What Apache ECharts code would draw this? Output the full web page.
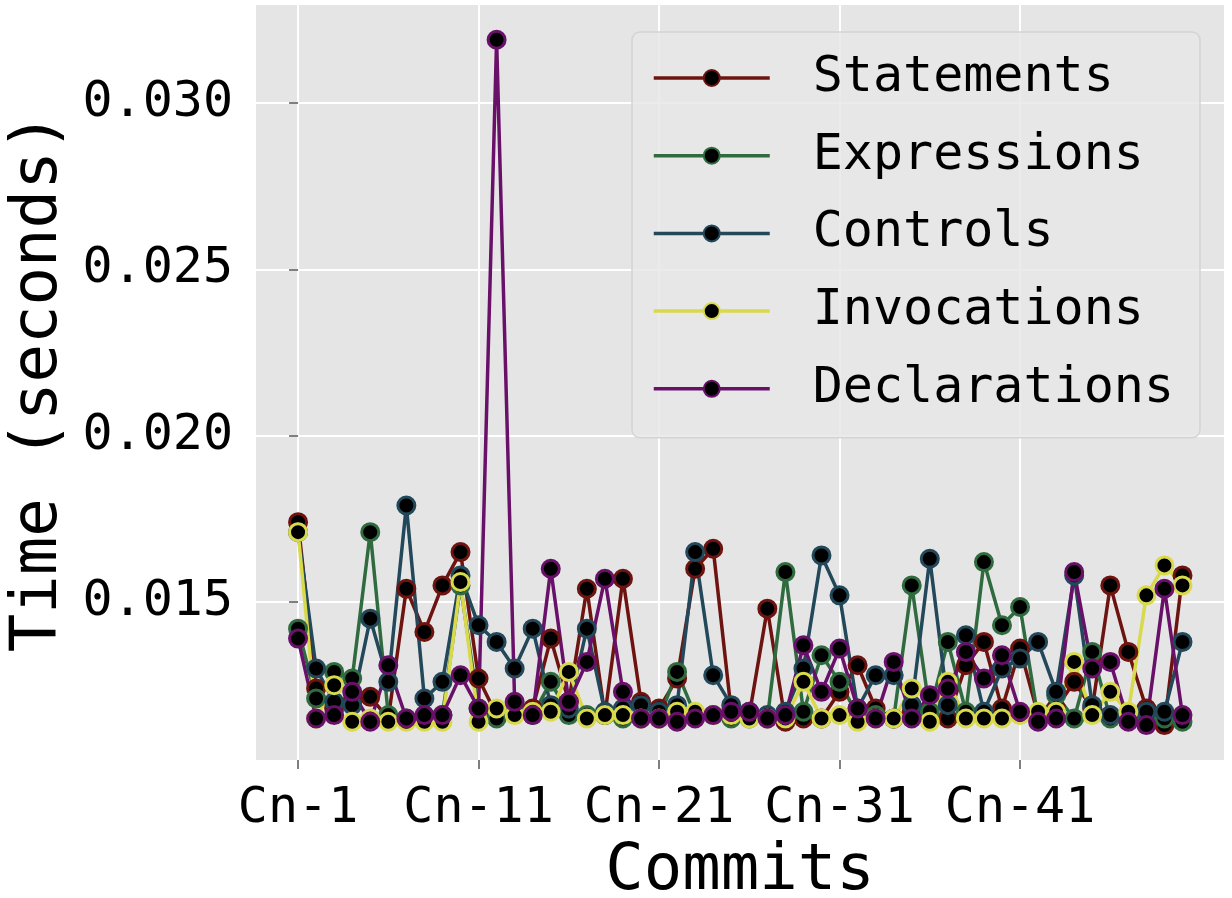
<!DOCTYPE html>
<html>
<head>
<meta charset="utf-8">
<script src="https://cdn.jsdelivr.net/npm/echarts@6/dist/echarts.min.js"></script>
<style>
  html, body { margin: 0; padding: 0; background: #fff; }
  #chart { width: 1232px; height: 898px; }
</style>
</head>
<body>
<div id="chart"></div>
<script>
// commit labels Cn-1 .. Cn-50
const commits = []
for (let i = 1; i <= 50; i++) commits.push('Cn-' + i)

const tickIndexes = [0, 10, 20, 30, 40]
const yTicks = [0.015, 0.020, 0.025, 0.030]

const statements = [
  0.0174, 0.0124, 0.0118, 0.0120, 0.01215, 0.0115, 0.0154, 0.0141, 0.0155, 0.0165,
  0.0127, 0.0116, 0.0118, 0.0118, 0.0139, 0.0120, 0.0154, 0.0116, 0.0157, 0.0120,
  0.0118, 0.0127, 0.0160, 0.0166, 0.0117, 0.0116, 0.0148, 0.0114, 0.0115, 0.0115,
  0.0123, 0.0131, 0.0118, 0.0115, 0.0117, 0.0116, 0.0115, 0.0131, 0.0138, 0.0118,
  0.0136, 0.0116, 0.0118, 0.0126, 0.0118, 0.0155, 0.0135, 0.0118, 0.0113, 0.0158
]
const expressions = [
  0.0142, 0.0121, 0.0129, 0.0127, 0.0171, 0.0116, 0.0115, 0.0115, 0.0116, 0.0155,
  0.0118, 0.0115, 0.0117, 0.0116, 0.0126, 0.0116, 0.0116, 0.0116, 0.0115, 0.0115,
  0.0115, 0.0129, 0.0116, 0.0116, 0.0115, 0.0115, 0.0115, 0.0159, 0.0117, 0.0134,
  0.0126, 0.0116, 0.0116, 0.0115, 0.0155, 0.0117, 0.0138, 0.0117, 0.0162, 0.0143,
  0.01485, 0.0115, 0.0122, 0.0115, 0.0135, 0.0115, 0.0116, 0.0115, 0.0115, 0.0114
]
const controls = [
  0.0171, 0.0130, 0.0120, 0.0119, 0.0145, 0.0126, 0.0179, 0.0121, 0.0126, 0.0158,
  0.0143, 0.0138, 0.0130, 0.0142, 0.0119, 0.0118, 0.0142, 0.0117, 0.0118, 0.0119,
  0.0117, 0.0119, 0.0165, 0.0128, 0.0119, 0.0117, 0.0116, 0.0117, 0.0130, 0.0164,
  0.0152, 0.0118, 0.0128, 0.0128, 0.0119, 0.0163, 0.0119, 0.0140, 0.0117, 0.0130,
  0.0133, 0.0138, 0.0123, 0.0158, 0.0119, 0.0116, 0.0116, 0.0117, 0.0117, 0.0138
]
const invocations = [
  0.0171, 0.0115, 0.0125, 0.0114, 0.0115, 0.0114, 0.0114, 0.0114, 0.0114, 0.0156,
  0.0114, 0.0118, 0.0116, 0.0117, 0.0117, 0.0129, 0.0115, 0.0116, 0.0116, 0.0115,
  0.0115, 0.0117, 0.0117, 0.0116, 0.0116, 0.0115, 0.0115, 0.0115, 0.0126, 0.0115,
  0.0116, 0.0114, 0.0115, 0.0115, 0.0124, 0.0114, 0.0126, 0.0115, 0.0115, 0.0115,
  0.0116, 0.0117, 0.0117, 0.0132, 0.0116, 0.0123, 0.0117, 0.0152, 0.0161, 0.0155
]
const declarations = [
  0.0139, 0.0115, 0.0116, 0.0123, 0.0114, 0.0131, 0.0115, 0.0116, 0.0116, 0.0128,
  0.0118, 0.0319, 0.0120, 0.0116, 0.0160, 0.0120, 0.0132, 0.0157, 0.0123, 0.0115,
  0.0115, 0.0114, 0.0115, 0.0116, 0.0117, 0.0117, 0.0115, 0.0116, 0.0137, 0.0123,
  0.0136, 0.0118, 0.0115, 0.0132, 0.0115, 0.0122, 0.0124, 0.0135, 0.0127, 0.0134,
  0.0117, 0.0114, 0.0115, 0.0159, 0.0130, 0.0132, 0.0114, 0.0113, 0.0154, 0.0116
]

const seriesNames = ['Statements', 'Expressions', 'Controls', 'Invocations', 'Declarations']
const seriesColors = ['#6e1410', '#2f6b3f', '#22485a', '#d9d94c', '#691069']
const seriesValues = [statements, expressions, controls, invocations, declarations]

const font = 'DejaVu Sans Mono'

const chart = echarts.init(document.getElementById('chart'))

chart.setOption({
    animation: false,
    grid: {
        left: 256,
        right: 8,
        top: 5,
        bottom: 138,
        outerBoundsMode: 'none',
        containLabel: false,
        show: true,
        backgroundColor: '#e5e5e5',
        borderWidth: 0
    },
    legend: {
        orient: 'vertical',
        left: 632,
        top: 32,
        padding: [21, 26, 24, 20],
        itemWidth: 116,
        itemHeight: 20,
        itemGap: 27.7,
        backgroundColor: 'rgba(232,232,232,0.85)',
        borderColor: '#d4d4d4',
        borderWidth: 1.5,
        borderRadius: 8,
        lineStyle: { width: 3.5 },
        textStyle: {
            fontFamily: font,
            fontSize: 50,
            lineHeight: 48,
            color: '#000',
            padding: [0, 0, 0, 38]
        },
        data: seriesNames
    },
    xAxis: {
        type: 'value',
        min: -2.33,
        max: 51.3,
        name: 'Commits',
        nameLocation: 'middle',
        nameGap: 80,
        nameTextStyle: { fontFamily: font, fontSize: 64, color: '#000' },
        axisLine: { show: false },
        axisTick: {
            show: true,
            length: 9,
            lineStyle: { color: '#555', width: 1.5 },
            customValues: tickIndexes
        },
        axisLabel: {
            fontFamily: font,
            fontSize: 50,
            color: '#000',
            margin: 24,
            customValues: tickIndexes,
            formatter: (v) => commits[Math.round(v)]
        },
        splitLine: { show: true, lineStyle: { color: '#fff', width: 2 } }
    },
    yAxis: {
        type: 'value',
        min: 0.010251,
        max: 0.032946,
        name: 'Time (seconds)',
        nameLocation: 'middle',
        nameRotate: 90,
        nameGap: 172,
        nameTextStyle: { fontFamily: font, fontSize: 64, color: '#000' },
        axisLine: { show: false },
        axisTick: {
            show: true,
            length: 9,
            lineStyle: { color: '#555', width: 1.5 },
            customValues: yTicks
        },
        axisLabel: {
            fontFamily: font,
            fontSize: 50,
            color: '#000',
            margin: 23,
            customValues: yTicks,
            formatter: (v) => v.toFixed(3)
        },
        splitLine: { show: true, lineStyle: { color: '#fff', width: 2 } }
    },
    series: seriesNames.map((name, k) => ({
        name: name,
        type: 'line',
        data: seriesValues[k].map((v, i) => [i, v]),
        symbol: 'circle',
        symbolSize: 17,
        lineStyle: { color: seriesColors[k], width: 3.5 },
        itemStyle: { color: '#000', borderColor: seriesColors[k], borderWidth: 3 },
        emphasis: { disabled: true }
    }))
})
</script>
</body>
</html>
